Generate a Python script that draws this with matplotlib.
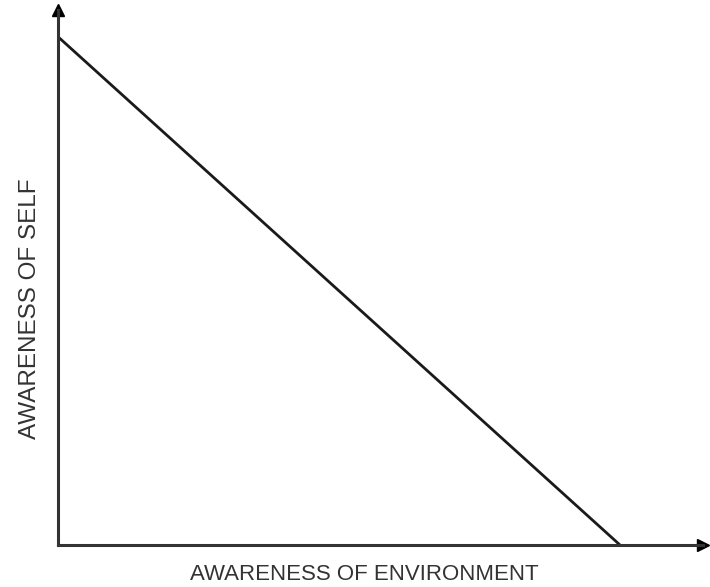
import matplotlib.pyplot as plt

# line end points (awareness of environment vs awareness of self)
environment = [0, 10]
self_aware = [10, 0]

plt.rcParams['font.family'] = ['Liberation Sans', 'DejaVu Sans']

fig = plt.figure(figsize=(7.1, 5.87), dpi=100)
ax = fig.add_axes([58 / 710, 42 / 587, 645 / 710, 535 / 587])

ax.plot(environment, self_aware, color='#1a1a1a', linewidth=2.0, solid_capstyle='butt')

ax.set_xlim(0, 10 * 645 / 562)
ax.set_ylim(0, 10 / 0.95)

for side in ['top', 'right']:
    ax.spines[side].set_visible(False)
for side in ['left', 'bottom']:
    ax.spines[side].set_linewidth(2.2)
    ax.spines[side].set_color('#333333')

ax.set_xticks([])
ax.set_yticks([])

# arrow heads at the axis ends
ax.plot(1, 0, '>', color='black', markersize=9, transform=ax.get_yaxis_transform(), clip_on=False)
ax.plot(0, 1, '^', color='black', markersize=9, transform=ax.get_xaxis_transform(), clip_on=False)

fig.text(364 / 710, 1 - 575 / 587, 'AWARENESS OF ENVIRONMENT', fontsize=16,
         color='#333333', ha='center', va='center')
fig.text(30 / 710, 1 - 309 / 587, 'AWARENESS OF SELF', fontsize=17.5, rotation=90,
         color='#333333', ha='center', va='center')

fig.savefig('out.png', dpi=100)
